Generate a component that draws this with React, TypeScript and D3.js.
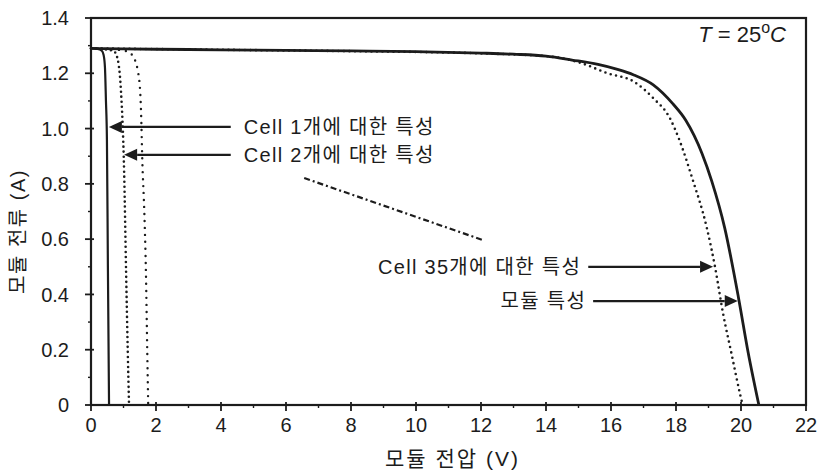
import React from "react"
import * as d3 from "d3"

// I-V curves (V in volts, I in amps)
const moduleV = [0, 1, 2, 4, 6, 8, 10, 12, 13, 14, 14.8, 15.6, 16.2, 16.7, 17.3, 17.9, 18.3, 18.8, 19.1, 19.5, 19.92, 20.22, 20.55]
const moduleI = [1.29, 1.288, 1.287, 1.285, 1.283, 1.281, 1.278, 1.273, 1.269, 1.262, 1.248, 1.232, 1.214, 1.194, 1.158, 1.09, 1.03, 0.91, 0.81, 0.64, 0.39, 0.19, 0]

const cell35V = [0, 4, 8, 12, 14, 15.0, 15.9, 16.7, 17.3, 17.8, 18.1, 18.5, 18.95, 19.2, 19.45, 19.7, 19.97, 20.05]
const cell35I = [1.29, 1.285, 1.28, 1.272, 1.262, 1.24, 1.2, 1.17, 1.11, 1.04, 0.96, 0.82, 0.64, 0.5, 0.33, 0.19, 0.04, 0]

const cell1V = [0, 0.2, 0.33, 0.39, 0.43, 0.46, 0.49, 0.52, 0.555]
const cell1I = [1.29, 1.288, 1.282, 1.265, 1.22, 1.1, 0.96, 0.5, 0]

const cell2V = [0, 0.4, 0.7, 0.8, 0.92, 1.02, 1.08, 1.13, 1.17]
const cell2I = [1.29, 1.287, 1.28, 1.26, 1.14, 0.84, 0.48, 0.2, 0]

const cell3V = [0, 0.6, 1.1, 1.3, 1.48, 1.54, 1.58, 1.64, 1.69, 1.73, 1.76]
const cell3I = [1.29, 1.287, 1.28, 1.26, 1.18, 1.06, 0.88, 0.7, 0.48, 0.2, 0]

// stray dash-dot stroke in the middle of the plot
const leaderV = [6.56, 12.05]
const leaderI = [0.821, 0.597]

// annotation arrows: label, tail V, tip V, current level
const arrowLabels = ["Cell 1개에 대한 특성", "Cell 2개에 대한 특성", "Cell 35개에 대한 특성", "모듈 특성"]
const arrowFromV = [4.3, 4.3, 15.3, 15.45]
const arrowToV = [0.55, 1.02, 19.14, 19.9]
const arrowAtI = [1.006, 0.905, 0.5, 0.376]

const xTicks = d3.range(0, 23, 2)
const xMinor = d3.range(1, 22, 2)
const yTicks = d3.range(0, 7.5).map(d => d * 0.2)
const yMinor = d3.range(0, 7).map(d => d * 0.2 + 0.1)

const W = 818
const H = 474
const M = { top: 18, right: 12, bottom: 69, left: 91 }
const FONT = "'Liberation Sans', Arial, 'Noto Sans CJK KR', sans-serif"
const INK = "#1c1c1c"

export default function App() {
  const x = d3.scaleLinear().domain([0, 22]).range([M.left, W - M.right])
  const y = d3.scaleLinear().domain([0, 1.4]).range([H - M.bottom, M.top])

  const line = (vs: number[], is: number[]) =>
    d3.line<number>()
      .x(i => x(vs[i]))
      .y(i => y(is[i]))
      .curve(d3.curveMonotoneX)(vs.map((_, i) => i)) || ""

  const x0 = x(0), x1 = x(22), y0 = y(0), y1 = y(1.4)

  return (
    <svg width={W} height={H} style={{ position: "absolute", left: 0, top: 0, background: "#fff" }}
      fontFamily={FONT}>
      {/* curves */}
      <path d={line(moduleV, moduleI)} fill="none" stroke={INK} strokeWidth={2.8} />
      <path d={line(cell35V, cell35I)} fill="none" stroke={INK} strokeWidth={2.6}
        strokeDasharray="0 5.5" strokeLinecap="round" />
      <path d={line(cell1V, cell1I)} fill="none" stroke={INK} strokeWidth={2.2} />
      <path d={line(cell2V, cell2I)} fill="none" stroke={INK} strokeWidth={2.6}
        strokeDasharray="0 5" strokeLinecap="round" />
      <path d={line(cell3V, cell3I)} fill="none" stroke={INK} strokeWidth={2.4}
        strokeDasharray="0 7" strokeLinecap="round" />
      <path d={line(leaderV, leaderI)} fill="none" stroke={INK} strokeWidth={2.2}
        strokeDasharray="6 3 2 3" />

      {/* frame */}
      <rect x={x0} y={y1} width={x1 - x0} height={y0 - y1} fill="none" stroke={INK} strokeWidth={2.2} />

      {/* x axis */}
      {xTicks.map(t => (
        <g key={"xt" + t}>
          <line x1={x(t)} x2={x(t)} y1={y0 - 3} y2={y0 + 6} stroke={INK} strokeWidth={1.8} />
          <text x={x(t)} y={y0 + 27} textAnchor="middle" fontSize={20} fill={INK}>{t}</text>
        </g>
      ))}
      {xMinor.map(t => (
        <line key={"xm" + t} x1={x(t)} x2={x(t)} y1={y0} y2={y0 + 3} stroke={INK} strokeWidth={1.4} />
      ))}
      <text x={(x0 + x1) / 2 + 4} y={H - 8} textAnchor="middle" fontSize={21} letterSpacing={2}
        fill={INK}>모듈 전압 (V)</text>

      {/* y axis */}
      {yTicks.map(t => (
        <g key={"yt" + t}>
          <line x1={x0 - 6} x2={x0 + 3} y1={y(t)} y2={y(t)} stroke={INK} strokeWidth={1.8} />
          <text x={x0 - 22} y={y(t)} dy="0.36em" textAnchor="end" fontSize={20} fill={INK}>
            {t === 0 ? "0" : t.toFixed(1)}
          </text>
        </g>
      ))}
      {yMinor.map(t => (
        <line key={"ym" + t} x1={x0 - 3} x2={x0} y1={y(t)} y2={y(t)} stroke={INK} strokeWidth={1.4} />
      ))}
      <text transform={`translate(25,${(y0 + y1) / 2 + 20}) rotate(-90)`} textAnchor="middle"
        fontSize={20} letterSpacing={1.5} fill={INK}>모듈 전류 (A)</text>

      {/* temperature note */}
      <text x={786} y={y(1.4) + 24} textAnchor="end" fontSize={22} fill={INK}>
        <tspan fontStyle="italic">T</tspan>
        <tspan> = 25</tspan>
        <tspan dy={-9} fontSize={16}>o</tspan>
        <tspan dy={9} fontStyle="italic">C</tspan>
      </text>

      {/* arrows with labels */}
      {arrowLabels.map((label, k) => {
        const ax = x(arrowFromV[k]), bx = x(arrowToV[k]), ay = y(arrowAtI[k])
        const dir = bx > ax ? 1 : -1
        const head = 13
        const tri = `M${bx},${ay} L${bx - dir * head},${ay - 6} L${bx - dir * head},${ay + 6} Z`
        const leftLabel = dir < 0
        return (
          <g key={"ar" + k}>
            <line x1={ax} x2={bx - dir * head} y1={ay} y2={ay} stroke={INK} strokeWidth={2.2} />
            <path d={tri} fill={INK} />
            <text x={leftLabel ? ax + 13 : ax - 7} y={ay} dy="0.36em"
              textAnchor={leftLabel ? "start" : "end"} fontSize={20} letterSpacing={1.3}
              fill={INK}>{label}</text>
          </g>
        )
      })}
    </svg>
  )
}
